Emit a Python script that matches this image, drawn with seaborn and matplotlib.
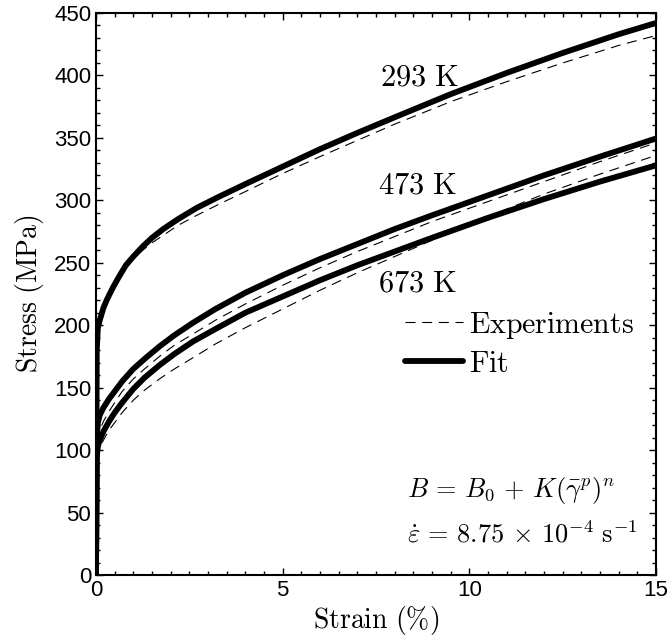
import matplotlib
matplotlib.use("Agg")
import matplotlib.pyplot as plt
from matplotlib.ticker import MultipleLocator
from matplotlib.lines import Line2D
import seaborn as sns
import pandas as pd

# values (strain in %, stress in MPa)
strain_293_fit = [0, 0.02, 0.05, 0.1, 0.2, 0.3, 0.45, 0.6, 0.8, 1.0, 1.25, 1.5, 1.8, 2.2, 2.7,
                  3.3, 4, 5, 6, 7, 8, 9.5, 11, 12.5, 14, 15]
stress_293_fit = [0, 180, 198, 204, 214, 221, 230, 238, 248, 255, 263, 270, 277, 285, 294,
                  303, 313, 327, 341, 354, 366.5, 385, 402, 418, 433, 442]
strain_293_exp = [0, 0.02, 0.05, 0.1, 0.2, 0.3, 0.45, 0.6, 0.8, 1.0, 1.25, 1.5, 1.8, 2.2, 2.7,
                  3.3, 4, 5, 6, 7, 8, 9.5, 11, 12.5, 14, 15]
stress_293_exp = [0, 175, 195, 203, 213, 220, 229, 237, 246, 253, 260, 266, 272, 280, 288,
                  297, 307, 321.5, 335, 348, 361, 379, 395, 410, 424, 432]

strain_473_fit = [0, 0.02, 0.05, 0.1, 0.2, 0.35, 0.5, 0.7, 1.0, 1.3, 1.7, 2.1, 2.6, 3.2, 4,
                  5, 6, 7, 8, 9, 10.5, 12, 13.5, 15]
stress_473_fit = [0, 110, 122, 128, 134, 141, 147, 155, 165, 173, 183, 192, 202, 213, 226,
                  240, 253, 265, 277, 288, 304, 320, 335, 349.5]
strain_473_exp = [0, 0.02, 0.05, 0.1, 0.2, 0.35, 0.5, 0.7, 1.0, 1.3, 1.7, 2.1, 2.6, 3.2, 4,
                  5, 6, 7, 8, 9, 10.5, 12, 13.5, 15]
stress_473_exp = [0, 98, 110, 116, 123, 131, 138, 147, 157, 165, 175, 184, 193, 204, 217,
                  232, 246, 259, 271, 283, 299, 315, 331, 346]

strain_673_fit = [0, 0.02, 0.05, 0.1, 0.2, 0.35, 0.5, 0.7, 1.0, 1.3, 1.7, 2.1, 2.6, 3.2, 4,
                  5, 6, 7, 8, 9, 10.5, 12, 13.5, 15]
stress_673_fit = [0, 95, 103, 108, 115, 123, 130, 138, 149, 158, 168, 177, 187, 197, 210,
                  223, 236, 248, 259, 270, 286, 301, 315, 328]
strain_673_exp = [0, 0.02, 0.05, 0.1, 0.2, 0.35, 0.5, 0.7, 1.0, 1.3, 1.7, 2.1, 2.6, 3.2, 4,
                  5, 6, 7, 8, 9, 10.5, 12, 13.5, 15]
stress_673_exp = [0, 90, 97, 102, 108, 116, 122, 130, 140, 148, 157, 165, 174, 185, 198,
                  213, 228, 242, 255, 268, 287, 305, 321, 336]

temps = ["293 K", "473 K", "673 K"]
label_x = [7.6, 7.56, 7.56]
label_y = [392, 305.5, 227]

sns.set_theme(style="ticks")
plt.rcParams["font.family"] = ["Liberation Sans", "DejaVu Sans"]
plt.rcParams["mathtext.fontset"] = "cm"
plt.rcParams["text.color"] = "black"
plt.rcParams["axes.labelcolor"] = "black"
plt.rcParams["xtick.color"] = "black"
plt.rcParams["ytick.color"] = "black"
plt.rcParams["axes.edgecolor"] = "black"

fig = plt.figure(figsize=(6.7, 6.42), dpi=100)
ax = fig.add_axes([96 / 670, 1 - 575 / 642, 560 / 670, 562 / 642])

dash = (0, (9, 6))
curves = [
    (strain_293_exp, stress_293_exp, "exp"), (strain_293_fit, stress_293_fit, "fit"),
    (strain_473_exp, stress_473_exp, "exp"), (strain_473_fit, stress_473_fit, "fit"),
    (strain_673_exp, stress_673_exp, "exp"), (strain_673_fit, stress_673_fit, "fit"),
]
for xs, ys, kind in curves:
    df = pd.DataFrame({"strain": xs, "stress": ys})
    if kind == "fit":
        sns.lineplot(data=df, x="strain", y="stress", ax=ax, color="black", linewidth=4.2,
                     sort=False, estimator=None, solid_capstyle="round", solid_joinstyle="round")
    else:
        sns.lineplot(data=df, x="strain", y="stress", ax=ax, color="black", linewidth=0.8,
                     sort=False, estimator=None, linestyle=dash)

for t, lx, ly in zip(temps, label_x, label_y):
    ax.text(lx, ly, r"$\mathrm{" + t.replace(" ", r"\ ") + "}$", fontsize=22,
            va="baseline", ha="left")

ax.text(8.33, 62.4, r"$B \,=\, B_0 \,+\, K(\bar{\gamma}^p)^n$", fontsize=19, va="baseline")
ax.text(8.33, 26.4, r"$\dot{\varepsilon} \,=\, 8.75 \,\times\, 10^{-4}\ \mathrm{s}^{-1}$",
        fontsize=19, va="baseline")

handles = [
    Line2D([], [], color="black", linewidth=0.8, linestyle=dash),
    Line2D([], [], color="black", linewidth=4.2),
]
ax.legend(handles, [r"$\mathrm{Experiments}$", r"$\mathrm{Fit}$"], loc="upper left",
          bbox_to_anchor=(0.53, 0.493), frameon=False, fontsize=21.5,
          handlelength=1.95, handletextpad=0.2, labelspacing=0.3, borderaxespad=0)

ax.set_xlim(0, 15)
ax.set_ylim(0, 450)
ax.xaxis.set_major_locator(MultipleLocator(5))
ax.xaxis.set_minor_locator(MultipleLocator(0.5))
ax.yaxis.set_major_locator(MultipleLocator(50))
ax.yaxis.set_minor_locator(MultipleLocator(10))
ax.tick_params(which="both", direction="in", top=True, right=True, labelsize=16, width=1.0)
ax.tick_params(which="major", length=5)
ax.tick_params(which="minor", length=3)
for s in ax.spines.values():
    s.set_linewidth(1.5)

ax.set_xlabel(r"$\mathrm{Strain\ (\%)}$", fontsize=20, labelpad=2)
ax.set_ylabel(r"$\mathrm{Stress\ (MPa)}$", fontsize=20, labelpad=6)

fig.savefig("out.png", dpi=100)
